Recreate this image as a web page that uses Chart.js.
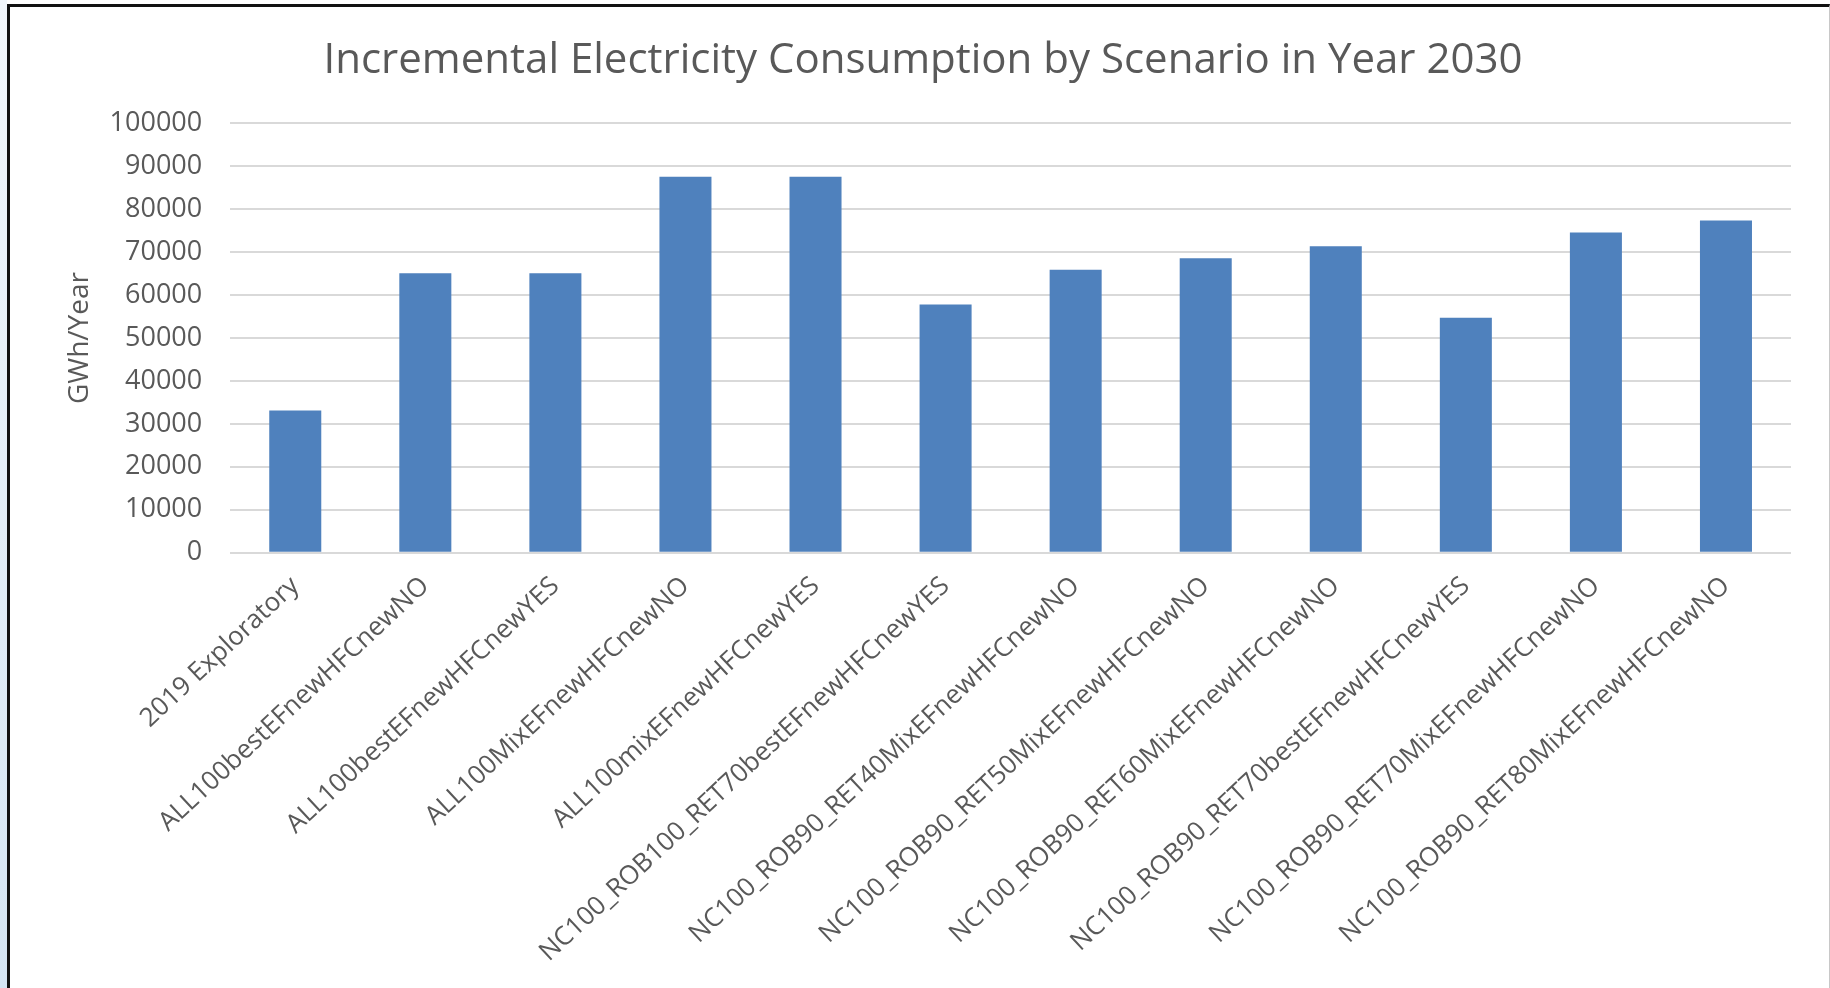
<!DOCTYPE html>
<html>
<head>
<meta charset="utf-8">
<title>Incremental Electricity Consumption by Scenario in Year 2030</title>
<script src="https://cdn.jsdelivr.net/npm/chart.js@4/dist/chart.umd.min.js"></script>
<style>
    html, body { margin: 0; padding: 0; background: #fff; }
    .page { position: relative; width: 1830px; height: 988px; overflow: hidden; }
    .strip { position: absolute; left: 0; top: 0; width: 7px; height: 988px;
             background: linear-gradient(to bottom, #f1f6fb, #d5e5f3); }
    .frame { position: absolute; left: 7px; top: 4px; right: 0; bottom: -4px;
             border-top: 3px solid #111; border-left: 3px solid #111;
             border-right: 1px solid #c8c8c8; background: #fff; }
    #myChart { position: absolute; left: 0; top: 0; }
</style>
</head>
<body>
<div class="page">
    <div class="strip"></div>
    <div class="frame"></div>
    <canvas id="myChart" width="1830" height="988"></canvas>
</div>
<script>
const escenarios = [
    '2019 Exploratory',
    'ALL100bestEFnewHFCnewNO',
    'ALL100bestEFnewHFCnewYES',
    'ALL100MixEFnewHFCnewNO',
    'ALL100mixEFnewHFCnewYES',
    'NC100_ROB100_RET70bestEFnewHFCnewYES',
    'NC100_ROB90_RET40MixEFnewHFCnewNO',
    'NC100_ROB90_RET50MixEFnewHFCnewNO',
    'NC100_ROB90_RET60MixEFnewHFCnewNO',
    'NC100_ROB90_RET70bestEFnewHFCnewYES',
    'NC100_ROB90_RET70MixEFnewHFCnewNO',
    'NC100_ROB90_RET80MixEFnewHFCnewNO'
];

// GWh/Year en 2030
const consumo = [33100, 65100, 65100, 87600, 87600, 57800, 65900, 68600, 71400, 54700, 74600, 77400];

const ejeY = { min: 0, max: 100000, paso: 10000 };

const gris = '#595959';
const fuente = "'Open Sans', 'Noto Sans', sans-serif";

document.addEventListener('DOMContentLoaded', function() {
    const ctx = document.getElementById('myChart').getContext('2d');
    const myChart = new Chart(ctx, {
        type: 'bar',
        data: {
            labels: escenarios,
            datasets: [{
                data: consumo,
                backgroundColor: '#4f81bd',
                borderWidth: 0,
                categoryPercentage: 0.4,
                barPercentage: 1.0
            }]
        },
        options: {
            responsive: false,
            animation: false,
            devicePixelRatio: 1,
            layout: {
                padding: { left: 55, right: 39, top: 0, bottom: 10 }
            },
            plugins: {
                legend: { display: false },
                tooltip: { enabled: false },
                title: {
                    display: true,
                    text: 'Incremental Electricity Consumption by Scenario in Year 2030',
                    color: gris,
                    font: { family: fuente, size: 42, weight: 'normal' },
                    padding: { top: 36, bottom: 37 }
                }
            },
            scales: {
                x: {
                    grid: { display: false },
                    border: { display: false },
                    ticks: {
                        color: gris,
                        font: { family: fuente, size: 26 },
                        autoSkip: false,
                        minRotation: 43,
                        maxRotation: 43,
                        padding: 10
                    }
                },
                y: {
                    min: ejeY.min,
                    max: ejeY.max,
                    border: { display: false },
                    grid: { color: '#d9d9d9', lineWidth: 2, drawTicks: false },
                    ticks: {
                        stepSize: ejeY.paso,
                        color: gris,
                        font: { family: fuente, size: 27 },
                        padding: 28,
                        callback: (v) => String(v)
                    },
                    title: {
                        display: true,
                        text: 'GWh/Year',
                        color: gris,
                        font: { family: fuente, size: 28 },
                        padding: { top: 8, bottom: -15 }
                    }
                }
            }
        }
    });
});
</script>
</body>
</html>
